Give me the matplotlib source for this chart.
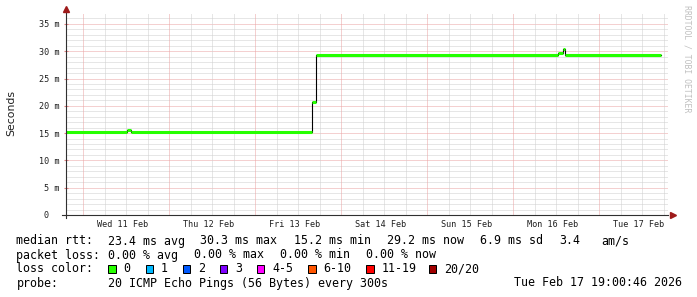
import numpy as np
import matplotlib
matplotlib.use("Agg")
import matplotlib.pyplot as plt
import matplotlib.dates as mdates
from matplotlib.patches import Rectangle
from matplotlib.transforms import ScaledTranslation

# median rtt, step values (ms)
rtt_time = ["2026-02-10 19:15", "2026-02-11 12:11", "2026-02-11 13:23",
            "2026-02-13 15:55", "2026-02-13 16:57", "2026-02-16 12:39",
            "2026-02-16 13:52", "2026-02-16 14:30", "2026-02-17 17:24"]
rtt_ms = [15.25, 15.6, 15.25, 20.7, 29.3, 29.75, 30.35, 29.25, 29.25]

day_labels = ["Wed 11 Feb", "Thu 12 Feb", "Fri 13 Feb", "Sat 14 Feb",
              "Sun 15 Feb", "Mon 16 Feb", "Tue 17 Feb"]
y_labels = ["0  ", "5 m", "10 m", "15 m", "20 m", "25 m", "30 m", "35 m"]

stats_rtt = ["23.4 ms avg", "30.3 ms max", "15.2 ms min", "29.2 ms now", "6.9 ms sd", "3.4", "am/s"]
stats_loss = ["0.00 % avg", "0.00 % max", "0.00 % min", "0.00 % now"]
loss_names = ["0", "1", "2", "3", "4-5", "6-10", "11-19", "20/20"]
loss_colors = ["#26ff00", "#00b8ff", "#0059ff", "#7e00ff", "#ff00ff", "#ff5500", "#ff0000", "#a10000"]

W, H = 697, 297
MONO = "DejaVu Sans Mono"

t_start = np.datetime64("2026-02-10 19:15")
t_end = np.datetime64("2026-02-17 19:15")

fig = plt.figure(figsize=(W / 100, H / 100), dpi=100)
fig.patch.set_facecolor("white")
ax = fig.add_axes([66 / W, (H - 215) / H, 602 / W, 202 / H])
ax.set_xlim(t_start, t_end)
ax.set_ylim(0, 37)
for s in ax.spines.values():
    s.set_visible(False)

# grid (rrdtool style dotted)
dot = (0, (1, 1))
for v in range(1, 37):
    major = v % 5 == 0
    ax.axhline(v, color="#eba3a3" if major else "#cfcfcf", lw=0.72, ls=dot, zorder=1)
hours = np.arange(np.datetime64("2026-02-11 00:00"), t_end, np.timedelta64(6, "h"))
for h in hours:
    major = h.astype(object).hour == 0
    ax.axvline(h, color="#eba3a3" if major else "#cfcfcf", lw=0.72, ls=dot, zorder=1)

# median rtt: black steps, green (0 loss) segments
times = np.array(rtt_time, dtype="datetime64[m]")
ax.step(times, rtt_ms, where="post", color="black", lw=0.8, zorder=3)
ax.hlines(rtt_ms[:-1], times[:-1], times[1:], color=loss_colors[0], lw=2.2, zorder=4)

# axes lines and arrows
ax.plot([-0.007, 1.0], [0, 0], transform=ax.transAxes, color="#303030", lw=0.8, clip_on=False, zorder=5)
ax.plot([0, 0], [-0.015, 1.01], transform=ax.transAxes, color="#303030", lw=0.8, clip_on=False, zorder=5)
ax.plot([1.0075], [0], transform=ax.transAxes, marker=">", ms=4.5, color="#9e1a1a", clip_on=False, zorder=6)
ax.plot([0], [1.02], transform=ax.transAxes, marker="^", ms=4.5, color="#9e1a1a", clip_on=False, zorder=6)

# ticks
ax.set_yticks(range(0, 36, 5))
ax.set_yticklabels(y_labels, family=MONO, fontsize=6.1, color="#202020")
ax.tick_params(axis="y", which="major", length=3, direction="inout", pad=3.0, color="#e08080")
noons = np.arange(np.datetime64("2026-02-11 12:00"), t_end, np.timedelta64(1, "D"))
ax.set_xticks(noons)
ax.set_xticklabels(day_labels, family=MONO, fontsize=6.1, color="#202020")
ax.tick_params(axis="x", which="major", length=0, pad=3.5)
shift = ScaledTranslation(-3.5 / 100, 0, fig.dpi_scale_trans)
for lab in ax.get_xticklabels():
    lab.set_transform(lab.get_transform() + shift)

fig.text(11 / W, 1 - 113 / H, "Seconds", rotation=90, ha="center", va="center",
         fontsize=7.8, family="DejaVu Sans", color="#202020")
fig.text(687.5 / W, 1 - 59 / H, "RRDTOOL / TOBI OETIKER", rotation=270, ha="center", va="center",
         fontsize=5.9, family=MONO, color="#c0c0c0")


def txt(x, y, s, **kw):
    fig.text(x / W, 1 - y / H, s, family=MONO, fontsize=8.4, color="black", va="center", **kw)


rows = [241, 255, 269, 283]
txt(16.5, rows[0], "median rtt:")
for x, s in zip([108.3, 200.5, 294, 386.8, 480, 559, 601.6], stats_rtt):
    txt(x, rows[0], s)
txt(16.5, rows[1], "packet loss:")
for x, s in zip([108.3, 193.8, 279.8, 366.3], stats_loss):
    txt(x, rows[1], s)
txt(16.5, rows[2], "loss color:")
box_x = [108.3, 145.7, 182.7, 220.1, 257.1, 308.4, 366.3, 428.7]
for bx, name, col in zip(box_x, loss_names, loss_colors):
    fig.add_artist(Rectangle((bx / W, 1 - (rows[2] + 3.6) / H), 7.3 / W, 7.3 / H,
                             transform=fig.transFigure, facecolor=col, edgecolor="black", lw=0.72))
    txt(bx + 15, rows[2], name)
txt(16.5, rows[3], "probe:")
txt(108.3, rows[3], "20 ICMP Echo Pings (56 Bytes) every 300s")
txt(681.8, rows[3], "Tue Feb 17 19:00:46 2026", ha="right")

fig.savefig("out.png", dpi=100, facecolor="white")
